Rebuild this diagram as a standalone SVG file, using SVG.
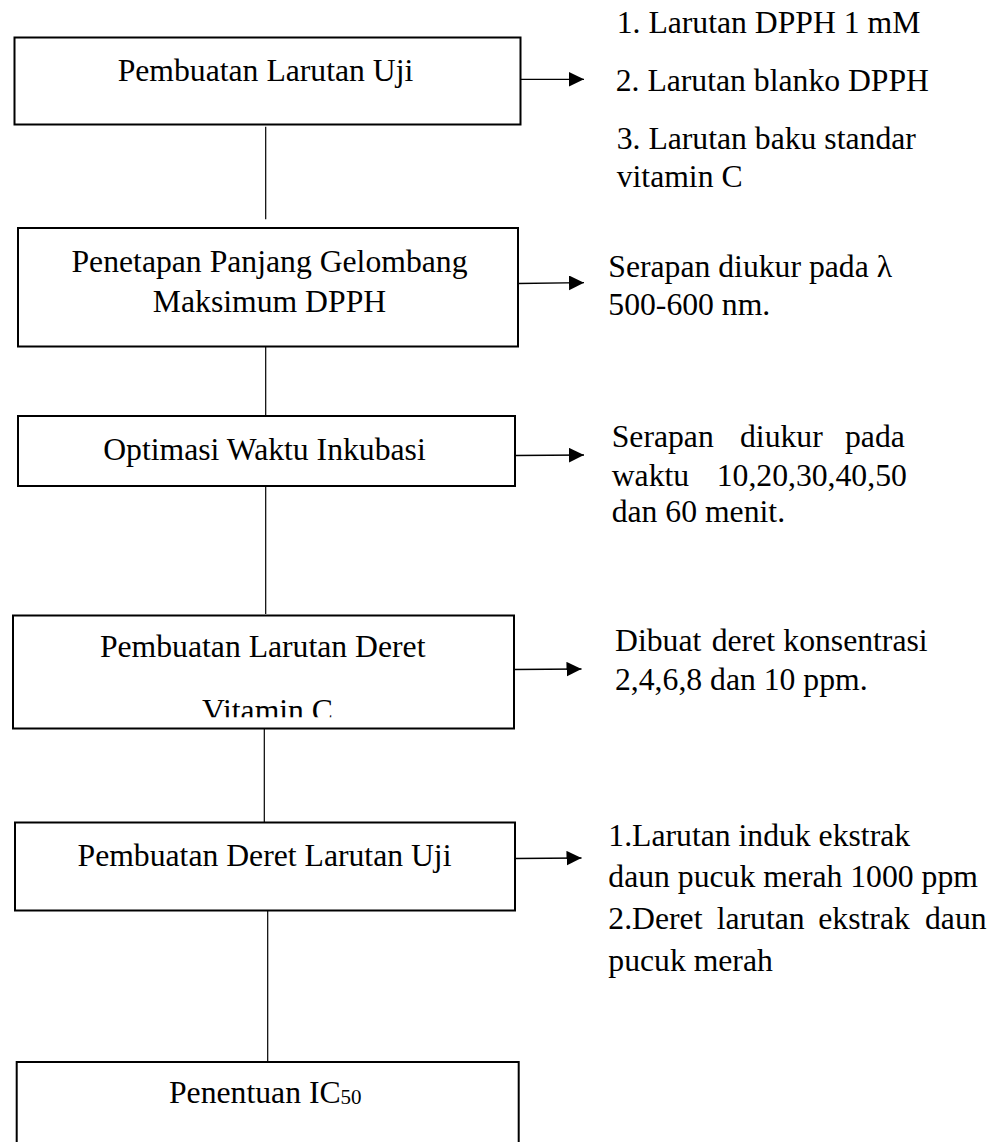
<svg xmlns="http://www.w3.org/2000/svg" width="1002" height="1142" viewBox="0 0 1002 1142">
  <style>
    .box { fill: #fff; stroke: #000; stroke-width: 2; }
    .conn { stroke: #000; stroke-width: 1.2; fill: none; }
    .arrow { stroke: #000; stroke-width: 1.3; fill: none; marker-end: url(#ah); }
    text { font-family: "Liberation Serif", "Times New Roman", serif; font-size: 31.7px; fill: #000; }
    .c { text-anchor: middle; }
  </style>
  <defs>
    <marker id="ah" markerUnits="userSpaceOnUse" markerWidth="16" markerHeight="16" refX="15" refY="7.3" orient="auto">
      <path d="M0,0 L15,7.3 L0,14.6 Z" fill="#000"/>
    </marker>
    <clipPath id="clipVit">
      <rect x="0" y="600" width="600" height="117.3"/>
    </clipPath>
  </defs>
  <rect width="1002" height="1142" fill="#fff"/>

  <g id="connectors">
    <line class="conn" x1="265.7" y1="126.7" x2="265.7" y2="219.3"/>
    <line class="conn" x1="265.7" y1="347" x2="265.7" y2="416"/>
    <line class="conn" x1="265.7" y1="486" x2="265.7" y2="614"/>
    <line class="conn" x1="264.3" y1="728.5" x2="264.3" y2="822"/>
    <line class="conn" x1="267.7" y1="911" x2="267.7" y2="1062"/>
    <line class="arrow" x1="520.7" y1="79.3" x2="584" y2="79.3"/>
    <line class="arrow" x1="518" y1="283.5" x2="584" y2="282.7"/>
    <line class="arrow" x1="515" y1="455.5" x2="584" y2="455"/>
    <line class="arrow" x1="514" y1="669.5" x2="581.5" y2="669"/>
    <line class="arrow" x1="515" y1="858.5" x2="581.5" y2="858"/>
  </g>

  <g id="node1">
    <rect class="box" x="14.5" y="37.5" width="506" height="87"/>
    <text class="c" x="265.5" y="81">Pembuatan Larutan Uji</text>
  </g>
  <g id="node2">
    <rect class="box" x="18" y="228" width="500" height="118.5"/>
    <text class="c" x="269.5" y="272">Penetapan Panjang Gelombang</text>
    <text class="c" x="269.5" y="312">Maksimum DPPH</text>
  </g>
  <g id="node3">
    <rect class="box" x="18" y="416" width="497" height="70"/>
    <text class="c" x="264.5" y="460">Optimasi Waktu Inkubasi</text>
  </g>
  <g id="node4">
    <rect class="box" x="13" y="615.5" width="501" height="113"/>
    <text class="c" x="262.7" y="657">Pembuatan Larutan Deret</text>
    <text class="c" x="267.5" y="720.5" clip-path="url(#clipVit)">Vitamin C</text>
  </g>
  <g id="node5">
    <rect class="box" x="15" y="822.5" width="500" height="88"/>
    <text class="c" x="264.5" y="866">Pembuatan Deret Larutan Uji</text>
  </g>
  <g id="node6">
    <rect class="box" x="16.7" y="1062" width="502" height="120"/>
    <text x="169" y="1103.3">Penentuan IC<tspan font-size="21px" dy="1">50</tspan></text>
  </g>

  <g id="note1">
    <text x="616.7" y="33.3">1. Larutan DPPH 1 mM</text>
    <text x="615.7" y="90.7">2. Larutan blanko DPPH</text>
    <text x="616.7" y="149">3. Larutan baku standar</text>
    <text x="616.7" y="187.3">vitamin C</text>
  </g>
  <g id="note2">
    <text x="608.3" y="276.7">Serapan diukur pada λ</text>
    <text x="608.3" y="315">500-600 nm.</text>
  </g>
  <g id="note3">
    <text y="446.7"><tspan x="611.7">Serapan</tspan><tspan x="740">diukur</tspan><tspan x="845">pada</tspan></text>
    <text y="486"><tspan x="611.7">waktu</tspan><tspan x="716.7">10,20,30,40,50</tspan></text>
    <text x="611.7" y="521.7">dan 60 menit.</text>
  </g>
  <g id="note4">
    <text y="650.7"><tspan x="615">Dibuat</tspan><tspan x="711.7">deret</tspan><tspan x="783.3">konsentrasi</tspan></text>
    <text x="615" y="690">2,4,6,8 dan 10 ppm.</text>
  </g>
  <g id="note5">
    <text x="608.3" y="845.7">1.Larutan induk ekstrak</text>
    <text x="608.3" y="887.3">daun pucuk merah 1000 ppm</text>
    <text y="929"><tspan x="608.3">2.Deret</tspan><tspan x="716.7">larutan</tspan><tspan x="818.3">ekstrak</tspan><tspan x="925">daun</tspan></text>
    <text x="608.3" y="970.7">pucuk merah</text>
  </g>
</svg>
